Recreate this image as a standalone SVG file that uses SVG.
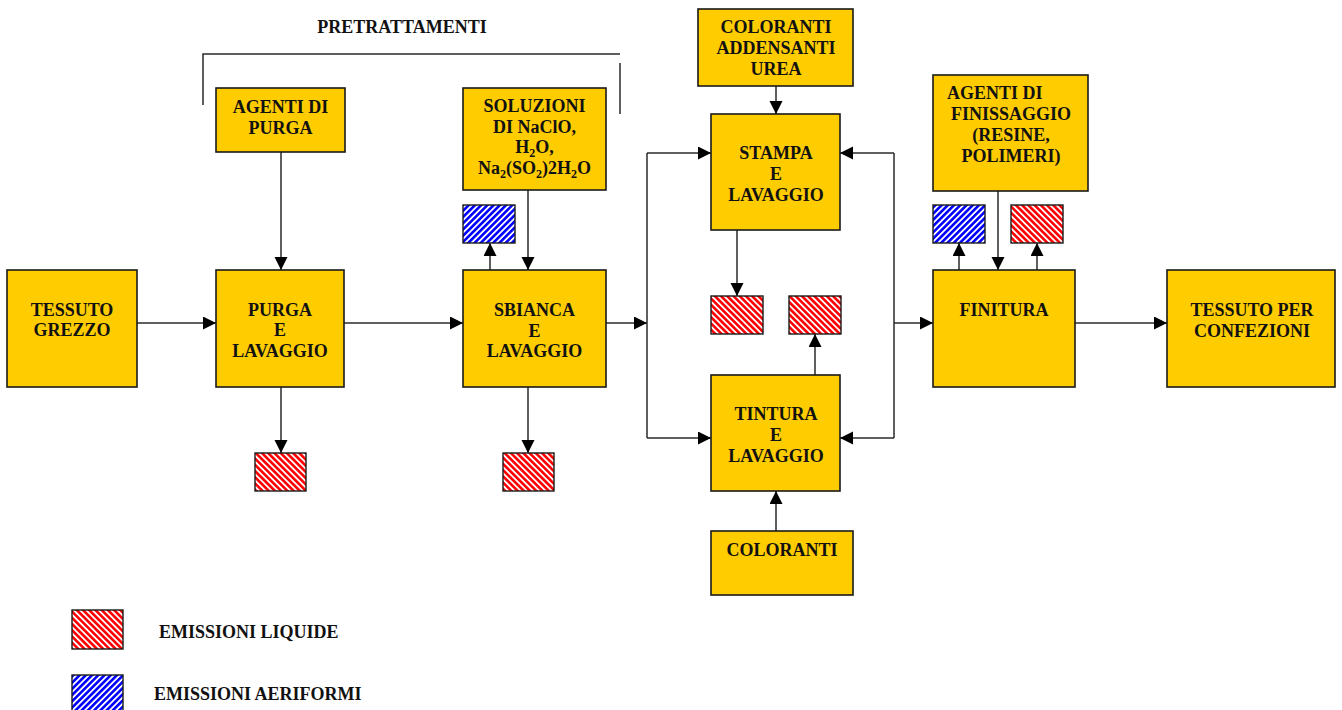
<svg xmlns="http://www.w3.org/2000/svg" width="1342" height="710" viewBox="0 0 1342 710">
<defs>
<pattern id="hatchRed" patternUnits="userSpaceOnUse" width="4.4" height="4.4" patternTransform="rotate(-45)">
<rect width="4.4" height="4.4" fill="#ffffff"/>
<rect width="2.6" height="4.4" fill="#ff0000"/>
</pattern>
<pattern id="hatchBlue" patternUnits="userSpaceOnUse" width="4.4" height="4.4" patternTransform="rotate(45)">
<rect width="4.4" height="4.4" fill="#ffffff"/>
<rect width="2.6" height="4.4" fill="#0000ff"/>
</pattern>
<marker id="arr" markerUnits="userSpaceOnUse" markerWidth="14" markerHeight="14" refX="13" refY="6.5" orient="auto">
<path d="M0,0 L13,6.5 L0,13 z" fill="#000"/>
</marker>
<style>
.box{fill:#ffcc00;stroke:#1a1a1a;stroke-width:1.6}
.red{fill:url(#hatchRed);stroke:#1a1a1a;stroke-width:1.4}
.blue{fill:url(#hatchBlue);stroke:#1a1a1a;stroke-width:1.4}
.t{font-family:"Liberation Serif","Times New Roman",serif;font-weight:bold;font-size:18px;fill:#111;text-anchor:middle}
.ts{text-anchor:start}
.ln{fill:none;stroke:#2a2a2a;stroke-width:1.5}
.ar{fill:none;stroke:#2a2a2a;stroke-width:1.5;marker-end:url(#arr)}
.sub{font-size:12px}
</style>
</defs>
<rect width="1342" height="710" fill="#ffffff"/>

<g id="pretrattamenti">
<text class="t" x="402" y="33">PRETRATTAMENTI</text>
<path class="ln" d="M203,105 V54 H620"/>
<path class="ln" d="M620,63 V114"/>
</g>

<g id="connectors">
<path class="ar" d="M137,323 H216"/>
<path class="ar" d="M344,323 H463"/>
<path class="ar" d="M606,323 H647"/>
<path class="ln" d="M647,153 V438"/>
<path class="ar" d="M647,153 H711"/>
<path class="ar" d="M647,438 H711"/>
<path class="ln" d="M894,153 V438"/>
<path class="ar" d="M894,153 H840"/>
<path class="ar" d="M894,438 H840"/>
<path class="ar" d="M894,323 H933"/>
<path class="ar" d="M776,86 V114"/>
<path class="ar" d="M737,230 V296"/>
<path class="ar" d="M815,375 V334"/>
<path class="ar" d="M776,531 V491"/>
<path class="ar" d="M281,152 V270"/>
<path class="ar" d="M528,190 V270"/>
<path class="ar" d="M490,270 V243"/>
<path class="ar" d="M281,387 V453"/>
<path class="ar" d="M528,387 V453"/>
<path class="ar" d="M998,191 V270"/>
<path class="ar" d="M959,270 V243"/>
<path class="ar" d="M1037,270 V243"/>
<path class="ar" d="M1075,323 H1167"/>
</g>

<g id="tessuto-grezzo">
<rect class="box" x="7" y="270" width="130" height="117"/>
<text class="t" x="72" y="316">TESSUTO</text>
<text class="t" x="72" y="336">GREZZO</text>
</g>

<g id="agenti-purga">
<rect class="box" x="216" y="88" width="129" height="64"/>
<text class="t" x="280.5" y="113">AGENTI DI</text>
<text class="t" x="280.5" y="134">PURGA</text>
</g>

<g id="purga-lavaggio">
<rect class="box" x="216" y="270" width="128" height="117"/>
<text class="t" x="280" y="316">PURGA</text>
<text class="t" x="280" y="336">E</text>
<text class="t" x="280" y="357">LAVAGGIO</text>
</g>

<g id="soluzioni">
<rect class="box" x="463" y="88" width="143" height="102"/>
<text class="t" x="534.5" y="112">SOLUZIONI</text>
<text class="t" x="534.5" y="133">DI NaClO,</text>
<text class="t" x="534.5" y="153">H<tspan class="sub" dy="4">2</tspan><tspan dy="-4">O,</tspan></text>
<text class="t" x="534.5" y="174">Na<tspan class="sub" dy="4">2</tspan><tspan dy="-4">(SO</tspan><tspan class="sub" dy="4">2</tspan><tspan dy="-4">)2H</tspan><tspan class="sub" dy="4">2</tspan><tspan dy="-4">O</tspan></text>
</g>

<g id="sbianca-lavaggio">
<rect class="box" x="463" y="270" width="143" height="117"/>
<text class="t" x="534.5" y="316">SBIANCA</text>
<text class="t" x="534.5" y="337">E</text>
<text class="t" x="534.5" y="357">LAVAGGIO</text>
</g>

<g id="emissione-aeriforme-sbianca">
<rect class="blue" x="463" y="205" width="52" height="38"/>
</g>
<g id="emissione-liquida-purga">
<rect class="red" x="255" y="453" width="51" height="38"/>
</g>
<g id="emissione-liquida-sbianca">
<rect class="red" x="503" y="453" width="51" height="38"/>
</g>

<g id="coloranti-addensanti">
<rect class="box" x="698" y="9" width="155" height="77"/>
<text class="t" x="776" y="33">COLORANTI</text>
<text class="t" x="776" y="54">ADDENSANTI</text>
<text class="t" x="776" y="75">UREA</text>
</g>

<g id="stampa-lavaggio">
<rect class="box" x="711" y="114" width="129" height="116"/>
<text class="t" x="776" y="159">STAMPA</text>
<text class="t" x="776" y="180">E</text>
<text class="t" x="776" y="201">LAVAGGIO</text>
</g>

<g id="emissione-liquida-stampa">
<rect class="red" x="711" y="296" width="52" height="38"/>
</g>
<g id="emissione-liquida-tintura">
<rect class="red" x="789" y="296" width="52" height="38"/>
</g>

<g id="tintura-lavaggio">
<rect class="box" x="711" y="375" width="129" height="116"/>
<text class="t" x="776" y="420">TINTURA</text>
<text class="t" x="776" y="441">E</text>
<text class="t" x="776" y="462">LAVAGGIO</text>
</g>

<g id="coloranti">
<rect class="box" x="711" y="531" width="142" height="64"/>
<text class="t" x="782" y="556">COLORANTI</text>
</g>

<g id="agenti-finissaggio">
<rect class="box" x="933" y="75" width="155" height="116"/>
<text class="t ts" x="947" y="99">AGENTI DI</text>
<text class="t" x="1011" y="120">FINISSAGGIO</text>
<text class="t" x="1011" y="141">(RESINE,</text>
<text class="t" x="1011" y="162">POLIMERI)</text>
</g>

<g id="emissione-aeriforme-finitura">
<rect class="blue" x="933" y="205" width="52" height="38"/>
</g>
<g id="emissione-liquida-finitura">
<rect class="red" x="1011" y="205" width="52" height="38"/>
</g>

<g id="finitura">
<rect class="box" x="933" y="270" width="142" height="117"/>
<text class="t" x="1004" y="316">FINITURA</text>
</g>

<g id="tessuto-confezioni">
<rect class="box" x="1167" y="270" width="168" height="117"/>
<text class="t" x="1252" y="316">TESSUTO PER</text>
<text class="t" x="1252" y="337">CONFEZIONI</text>
</g>

<g id="legenda-liquide">
<rect class="red" x="72" y="610" width="51" height="39"/>
<text class="t ts" x="159" y="638">EMISSIONI LIQUIDE</text>
</g>
<g id="legenda-aeriformi">
<rect class="blue" x="72" y="675" width="51" height="39"/>
<text class="t ts" x="154" y="700">EMISSIONI AERIFORMI</text>
</g>
</svg>
